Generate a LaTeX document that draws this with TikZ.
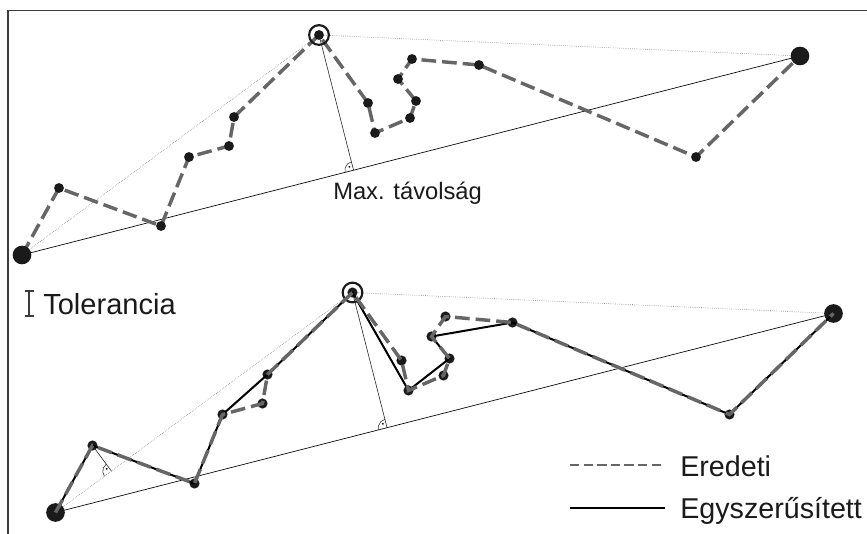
\documentclass[tikz,border=0pt]{standalone}
\usepackage{fontspec}
\setmainfont{Liberation Sans}
\usetikzlibrary{calc,angles}
\definecolor{dashgray}{HTML}{666666}
\definecolor{framegray}{HTML}{3C3C3C}
\definecolor{txt}{HTML}{1A1A1A}
\definecolor{dotcol}{HTML}{1A1A1A}
\newcommand\rdppoints[1]{%
  \coordinate (#1P0) at (22,-255);
  \coordinate (#1P1) at (59,-188);
  \coordinate (#1P2) at (161,-226);
  \coordinate (#1P3) at (189,-157);
  \coordinate (#1P4) at (229,-146);
  \coordinate (#1P5) at (234,-117);
  \coordinate (#1P6) at (319,-35);
  \coordinate (#1P7) at (368,-103);
  \coordinate (#1P8) at (375,-133);
  \coordinate (#1P9) at (410,-118);
  \coordinate (#1P10) at (416,-101);
  \coordinate (#1P11) at (398,-79);
  \coordinate (#1P12) at (412,-59);
  \coordinate (#1P13) at (479,-65);
  \coordinate (#1P14) at (696,-157);
  \coordinate (#1P15) at (800,-56);
}
\begin{document}
\begin{tikzpicture}[x=0.75pt,y=0.75pt,
  orig/.style={draw=dashgray, line width=2.6pt, dash pattern=on 11pt off 4.5pt},
  simp/.style={draw=black, line width=1.5pt},
  baseln/.style={draw=black, line width=0.5pt},
  guide/.style={draw=black!60, line width=0.4pt, densely dotted},
  perp/.style={draw=black!85, line width=0.45pt},
  smalldot/.style={fill=dotcol},
  ring/.style={draw=dotcol, line width=1.6pt},
  rmark/.style={draw=black!85, line width=0.4pt, angle radius=6.5pt,
    angle eccentricity=0.55, pic text={\fontsize{5}{5}\selectfont\textbullet}},
  lbl/.style={text=txt, inner sep=0pt, anchor=base west}
]
\useasboundingbox (0,0) rectangle (867,-534);
% frame
\coordinate (fTR) at (867,-10.5);
\coordinate (fTL) at (8,-10.5);
\coordinate (fBL) at (8,-534);
\draw[framegray, line width=1pt] (fTR) -- (fTL) -- (fBL);

% ---------- top panel ----------
\rdppoints{a}
\coordinate (aF) at ($(aP0)!(aP6)!(aP15)$);
\draw[guide] (aP0) -- (aP6) -- (aP15);
\draw[baseln] (aP0) -- (aP15);
\draw[perp] (aP6) -- (aF);
\pic[rmark] {angle = aP6--aF--aP0};
\draw[orig] (aP0) -- (aP1) -- (aP2) -- (aP3) -- (aP4) -- (aP5) -- (aP6) -- (aP7)
  -- (aP8) -- (aP9) -- (aP10) -- (aP11) -- (aP12) -- (aP13) -- (aP14) -- (aP15);
\foreach \i in {1,...,14} \fill[smalldot] (aP\i) circle (3.7pt);
\fill[smalldot] (aP0) circle (7pt);
\fill[smalldot] (aP15) circle (7pt);
\draw[ring] (aP6) circle (7.4pt);
\node[lbl, font=\fontsize{17.8}{17.8}\selectfont] (maxt) at (333,-200) {Max. távolság};

% ---------- tolerance ----------
\coordinate (tT) at (29,-291);
\coordinate (tB) at (29,-316);
\coordinate (tTL) at (24.5,-291);
\coordinate (tTR) at (33.5,-291);
\coordinate (tBL) at (24.5,-316);
\coordinate (tBR) at (33.5,-316);
\draw[framegray, line width=1.2pt] (tT) -- (tB) (tTL) -- (tTR) (tBL) -- (tBR);
\node[lbl, font=\fontsize{21.8}{21.8}\selectfont] (tol) at (43,-315) {Tolerancia};

% ---------- bottom panel ----------
\begin{scope}[shift={(33.5,-257.5)}]
\rdppoints{b}
\end{scope}
\coordinate (bF) at ($(bP0)!(bP6)!(bP15)$);
\coordinate (bG) at ($(bP0)!(bP1)!(bP6)$);
\draw[guide] (bP0) -- (bP6) -- (bP15);
\draw[baseln] (bP0) -- (bP15);
\draw[perp] (bP6) -- (bF);
\draw[perp] (bP1) -- (bG);
\pic[rmark] {angle = bP6--bF--bP0};
\pic[rmark] {angle = bP1--bG--bP0};
\foreach \i in {1,...,14} \fill[smalldot] (bP\i) circle (3.8pt);
\fill[smalldot] (bP0) circle (7pt);
\fill[smalldot] (bP15) circle (7pt);
\draw[ring] (bP6) circle (7.4pt);
\draw[simp] (bP0) -- (bP1) -- (bP2) -- (bP3) -- (bP5) -- (bP6) -- (bP8) -- (bP10)
  -- (bP11) -- (bP13) -- (bP14) -- (bP15);
\draw[orig] (bP0) -- (bP1) -- (bP2) -- (bP3) -- (bP4) -- (bP5) -- (bP6) -- (bP7)
  -- (bP8) -- (bP9) -- (bP10) -- (bP11) -- (bP12) -- (bP13) -- (bP14) -- (bP15);

% ---------- legend ----------
\coordinate (l1a) at (570,-465);
\coordinate (l1b) at (665,-465);
\coordinate (l2a) at (570,-508);
\coordinate (l2b) at (665,-508);
\draw[dashgray, line width=1.5pt, dash pattern=on 7pt off 3.2pt] (l1a) -- (l1b);
\draw[black, line width=1.5pt] (l2a) -- (l2b);
\node[lbl, font=\fontsize{21.5}{21.5}\selectfont] (ered) at (680,-476.5) {Eredeti};
\node[lbl, font=\fontsize{21.5}{21.5}\selectfont] (egy) at (680,-518.3) {Egyszerűsített};
\end{tikzpicture}
\end{document}
